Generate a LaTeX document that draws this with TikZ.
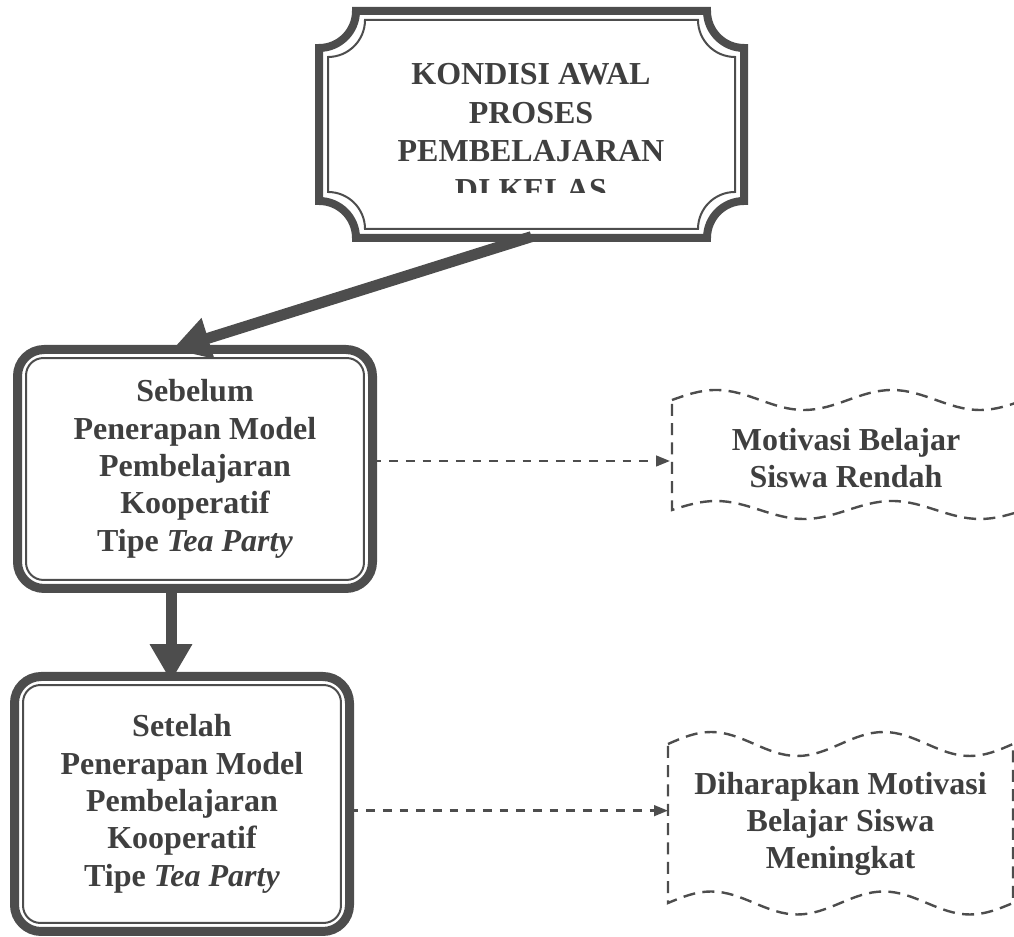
\documentclass[tikz,border=0pt]{standalone}
\usepackage{fontspec}
\setmainfont{Liberation Serif}
\usepackage{xcolor}
\usepackage{tikz}
\usetikzlibrary{arrows.meta,positioning,calc}
\definecolor{ink}{HTML}{4D4D4D}
\definecolor{inktxt}{HTML}{3F3F3F}
\tikzset{
  teks/.style = {align=center, inner sep=0pt, text centered, text=inktxt,
    font=\bfseries\fontsize{24pt}{28pt}\selectfont},
  kotak_r/.style = {teks, rectangle, rounded corners=20pt, draw=ink,
    line width=6.75pt, outer sep=0pt},% kotak bulat, garis tebal
  kotak_p/.style = {rectangle, inner sep=0pt, outer sep=0pt,
    minimum width=324.75pt, minimum height=176.25pt},% plakat atas
  garis_tb/.style = {draw=ink, line width=6pt},% garis tebal
  garis_t/.style = {draw=ink, line width=1.5pt, rounded corners=13pt},% garis tipis dalam
  pita/.style = {teks, rectangle, outer sep=0pt},% kotak gelombang
  pita_g/.style = {draw=ink, line width=1.8pt, dash pattern=on 9pt off 5.5pt},
  panah_b/.style = {draw=ink, line width=8.25pt,
    -{Triangle[length=28pt,width=30pt]}},% panah besar
  panah_p/.style = {draw=ink, line width=1.8pt, dash pattern=on 6.5pt off 6pt,
    -{Triangle[length=10.5pt,width=8pt]}}% panah putus-putus
}
\begin{document}
\begin{tikzpicture}[x=0.75pt, y=0.75pt]
\useasboundingbox (0,0) rectangle (1014,937);

% kondisi awal
\node[kotak_p] (awal) at (531.5,812.5) {};
\draw[garis_tb] (319,889) -- (319,736) arc[start angle=90, end angle=0, radius=37]
  -- (707,699) arc[start angle=180, end angle=90, radius=37]
  -- (744,889) arc[start angle=270, end angle=180, radius=37]
  -- (356,926) arc[start angle=360, end angle=270, radius=37] -- cycle;
\draw[draw=ink, line width=1.5pt] (328,880) -- (328,745) arc[start angle=90, end angle=0, radius=37]
  -- (698,708) arc[start angle=180, end angle=90, radius=37]
  -- (735,880) arc[start angle=270, end angle=180, radius=37]
  -- (365,917) arc[start angle=360, end angle=270, radius=37] -- cycle;
\begin{scope}
  \clip (315,744) rectangle (748,930);
  \node[teks, font=\bfseries\fontsize{24pt}{29pt}\selectfont] (awal_t) at (531,805)
    {KONDISI AWAL\\PROSES\\PEMBELAJARAN\\DI KELAS};
\end{scope}

% sebelum dan setelah
\node[kotak_r, minimum width=266.25pt, minimum height=179.25pt] (sebelum) at (195,468)
  {Sebelum\\Penerapan Model\\Pembelajaran\\Kooperatif\\Tipe \textit{Tea Party}};
\draw[garis_t] ([shift={(6.4pt,6.4pt)}]sebelum.south west) rectangle ([shift={(-6.4pt,-6.4pt)}]sebelum.north east);

\node[kotak_r, minimum width=251.25pt, minimum height=191.25pt] (setelah) at (182,133)
  {Setelah\\Penerapan Model\\Pembelajaran\\Kooperatif\\Tipe \textit{Tea Party}};
\draw[garis_t] ([shift={(6.4pt,6.4pt)}]setelah.south west) rectangle ([shift={(-6.4pt,-6.4pt)}]setelah.north east);

% motivasi
\node[pita, minimum width=264pt, minimum height=82.5pt] (rendah) at (846,479)
  {Motivasi Belajar\\Siswa Rendah};
\draw[pita_g] (672,537) sin (716,547) cos (760,537) sin (804,527) cos (848,537)
  sin (892,547) cos (936,537) sin (980,527) cos (1024,537) -- (1024,427)
  sin (980,418) cos (936,427) sin (892,436) cos (848,427)
  sin (804,418) cos (760,427) sin (716,436) cos (672,427) -- cycle;

\node[pita, minimum width=258.75pt, minimum height=119pt] (meningkat) at (840.5,113)
  {Diharapkan Motivasi\\Belajar Siswa\\Meningkat};
\draw[pita_g] (668,193) sin (711.125,205) cos (754.25,193) sin (797.375,181) cos (840.5,193)
  sin (883.625,205) cos (926.75,193) sin (969.875,181) cos (1013,193) -- (1013,34)
  sin (969.875,22.5) cos (926.75,34) sin (883.625,45.5) cos (840.5,34)
  sin (797.375,22.5) cos (754.25,34) sin (711.125,45.5) cos (668,34) -- cycle;

% panah
\draw[panah_b] ([yshift=4pt]awal.south) -- ([xshift=-17pt]sebelum.north);
\draw[panah_b, shorten >=-3.75pt] ([xshift=-18pt]sebelum.south) -- ([xshift=-8.25pt]setelah.north);
\coordinate (p1) at ([yshift=6pt]sebelum.east);
\draw[panah_p] (p1) -- (p1 -| rendah.west);
\coordinate (p2) at ([yshift=-5pt]setelah.east);
\draw[panah_p] (p2) -- (p2 -| meningkat.west);
\end{tikzpicture}
\end{document}
